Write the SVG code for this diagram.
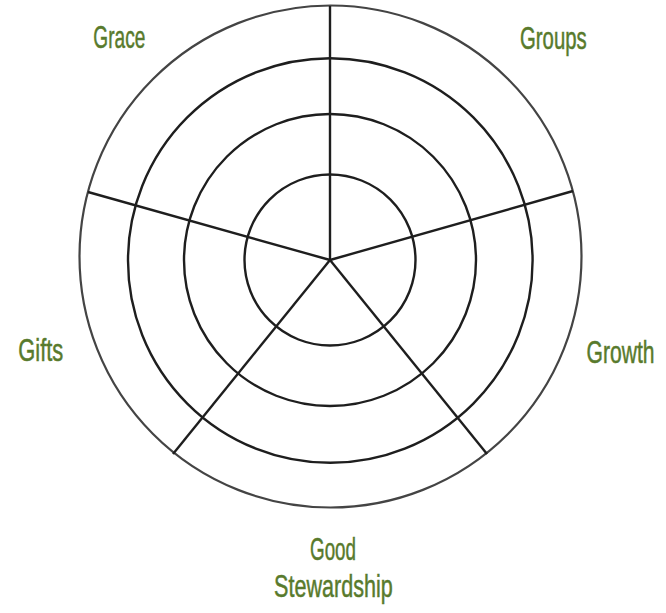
<svg xmlns="http://www.w3.org/2000/svg" width="666" height="613" viewBox="0 0 666 613">
  <style>
    .ring { fill: none; stroke: #1e1e1e; stroke-width: 2.4; }
    .outer { fill: none; stroke: #444444; stroke-width: 2.2; }
    .spoke { stroke: #1e1e1e; stroke-width: 2.4; fill: none; }
    .label { font-family: "Ubuntu Condensed", "Liberation Sans Narrow", "Liberation Sans", sans-serif; font-size: 32px; fill: #587a2c; stroke: #587a2c; stroke-width: 0.5; }
  </style>
  <rect width="666" height="613" fill="#ffffff"/>
  <g id="wheel">
    <circle class="outer" cx="330.5" cy="256.5" r="251"/>
    <circle class="ring" cx="330.3" cy="260.5" r="202.3"/>
    <circle class="ring" cx="330" cy="260" r="146"/>
    <circle class="ring" cx="330" cy="260" r="85.5"/>
  </g>
  <g id="connectors">
    <line class="spoke" x1="330" y1="260" x2="330" y2="6"/>
    <line class="spoke" x1="330" y1="260" x2="573" y2="191"/>
    <line class="spoke" x1="330" y1="260" x2="487" y2="454"/>
    <line class="spoke" x1="330" y1="260" x2="173" y2="454"/>
    <line class="spoke" x1="330" y1="260" x2="88" y2="192"/>
  </g>
  <g id="grace"><text class="label" x="93.3" y="48.3" textLength="52" lengthAdjust="spacingAndGlyphs">Grace</text></g>
  <g id="groups"><text class="label" x="520" y="49.3" textLength="66.7" lengthAdjust="spacingAndGlyphs">Groups</text></g>
  <g id="gifts"><text class="label" x="18.3" y="360.7" textLength="45" lengthAdjust="spacingAndGlyphs">Gifts</text></g>
  <g id="growth"><text class="label" x="654.5" y="363.3" text-anchor="end" textLength="68" lengthAdjust="spacingAndGlyphs">Growth</text></g>
  <g id="good-stewardship">
    <text class="label" x="310" y="560" textLength="46" lengthAdjust="spacingAndGlyphs">Good</text>
    <text class="label" x="274" y="597.3" textLength="118.7" lengthAdjust="spacingAndGlyphs">Stewardship</text>
  </g>
</svg>
